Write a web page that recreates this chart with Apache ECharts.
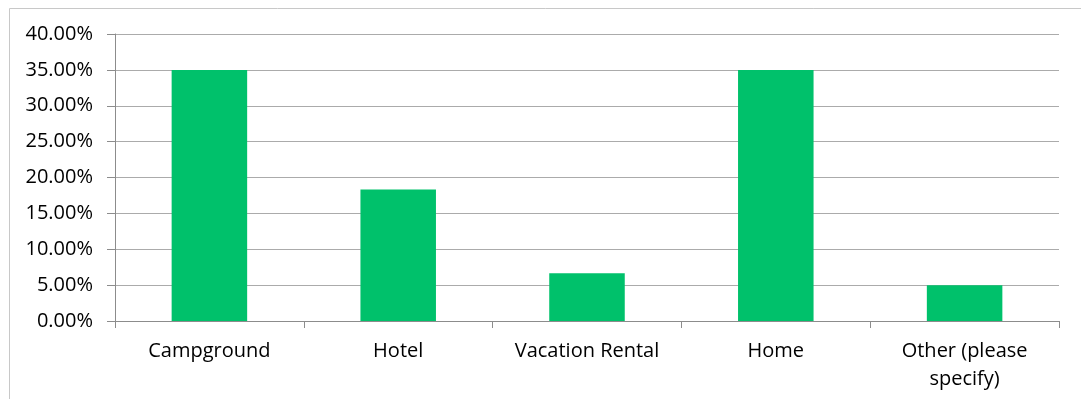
<!DOCTYPE html>
<html>
<head>
<meta charset="utf-8">
<script src="https://cdn.jsdelivr.net/npm/echarts@6/dist/echarts.min.js"></script>
<style>
  html, body { margin: 0; padding: 0; background: #ffffff; }
  #chart { width: 1081px; height: 399px; }
</style>
</head>
<body>
<div id="chart"></div>
<script>
// Where people stayed, share of responses
const categories = ['Campground', 'Hotel', 'Vacation Rental', 'Home', 'Other (please\nspecify)'];
const shares = [0.35, 0.1833, 0.0667, 0.35, 0.05];
const yTicks = { min: 0, max: 0.4, interval: 0.05 };

const font = '"Open Sans", sans-serif';
const chart = echarts.init(document.getElementById('chart'), null, { renderer: 'canvas' });

chart.setOption({
  animation: false,
  backgroundColor: '#ffffff',
  graphic: [{
    type: 'rect',
    shape: { x: 9.5, y: 8.5, width: 1200, height: 500 },
    style: { fill: 'none', stroke: '#c8c8c8', lineWidth: 1 },
    silent: true
  }],
  grid: { left: 115, right: 22, top: 34, bottom: 78, containLabel: false },
  xAxis: {
    type: 'category',
    data: categories,
    boundaryGap: true,
    axisLine: { show: true, lineStyle: { color: '#8c8c8c', width: 1 } },
    axisTick: { show: true, length: 7, alignWithLabel: false, lineStyle: { color: '#8c8c8c' } },
    axisLabel: {
      color: '#000000', fontFamily: font, fontSize: 20, margin: 16,
      lineHeight: 28, interval: 0
    },
    splitLine: { show: false }
  },
  yAxis: {
    type: 'value',
    min: yTicks.min, max: yTicks.max, interval: yTicks.interval,
    axisLine: { show: true, lineStyle: { color: '#8c8c8c', width: 1 } },
    axisTick: { show: true, length: 8, lineStyle: { color: '#8c8c8c' } },
    axisLabel: {
      color: '#000000', fontFamily: font, fontSize: 20, margin: 22,
      formatter: v => (v * 100).toFixed(2) + '%'
    },
    splitLine: { show: true, lineStyle: { color: '#ababab', width: 1 } }
  },
  series: [{
    type: 'bar',
    data: shares,
    barWidth: '40%',
    itemStyle: { color: '#00c16b' }
  }]
});
</script>
</body>
</html>
